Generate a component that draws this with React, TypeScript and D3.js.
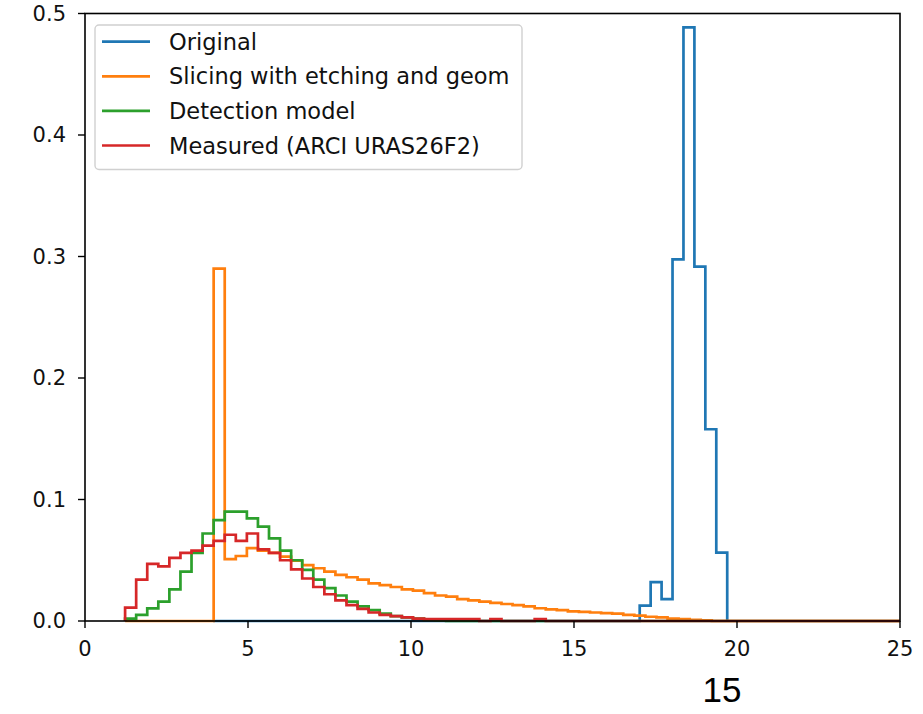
import React from "react";
import * as d3 from "d3";

// ---- data ----
const seriesNames = [
  "Original",
  "Slicing with etching and geom",
  "Detection model",
  "Measured (ARCI URAS26F2)",
];
const seriesColors = ["#1f77b4", "#ff7f0e", "#2ca02c", "#d62728"];

// Original: bin edges from blueStart to blueEnd
const blueStart = 3.93;
const blueEnd = 19.7;
const blueValues = [
  0, 0, 0, 0, 0, 0, 0, 0, 0, 0,
  0, 0, 0, 0, 0, 0, 0, 0, 0, 0,
  0, 0, 0, 0, 0, 0, 0, 0, 0, 0,
  0, 0, 0, 0, 0, 0, 0, 0, 0,
  0.0126, 0.032, 0.018, 0.2977, 0.4886, 0.2916, 0.1578, 0.0562,
];

// shared bins for the other three series
const sharedStart = 1.23;
const sharedEnd = 25;
const orangeValues = [
  0, 0, 0, 0, 0, 0, 0, 0, 0.29, 0.051,
  0.0535, 0.06, 0.058, 0.056, 0.053, 0.0496, 0.046, 0.0434, 0.0406, 0.038,
  0.036, 0.034, 0.031, 0.0296, 0.028, 0.026, 0.025, 0.023, 0.021, 0.02,
  0.018, 0.017, 0.016, 0.015, 0.014, 0.013, 0.012, 0.0105, 0.0095, 0.009,
  0.008, 0.0075, 0.007, 0.0065, 0.006, 0.005, 0.0045, 0.0035, 0.003, 0.002,
  0.0015, 0.001, 0.0005, 0, 0, 0, 0, 0, 0, 0,
  0, 0, 0, 0, 0, 0, 0, 0, 0, 0,
];
const greenValues = [
  0.002, 0.005, 0.0104, 0.016, 0.026, 0.0406, 0.056, 0.072, 0.083, 0.09,
  0.09, 0.0845, 0.0776, 0.068, 0.058, 0.05, 0.042, 0.034, 0.027, 0.021,
  0.016, 0.012, 0.009, 0.006, 0.004, 0.003, 0.002, 0.001, 0.0005, 0,
  0, 0, 0, 0, 0, 0, 0, 0, 0, 0,
  0, 0, 0, 0, 0, 0, 0, 0, 0, 0,
  0, 0, 0, 0, 0, 0, 0, 0, 0, 0,
  0, 0, 0, 0, 0, 0, 0, 0, 0, 0,
];
const redValues = [
  0.011, 0.034, 0.047, 0.045, 0.052, 0.056, 0.058, 0.062, 0.066, 0.071,
  0.066, 0.072, 0.059, 0.056, 0.05, 0.0425, 0.035, 0.028, 0.022, 0.017,
  0.013, 0.01, 0.007, 0.005, 0.004, 0.003, 0.002, 0.0015, 0.0015, 0.0015,
  0.0015, 0.0015, 0, 0.0015, 0, 0, 0, 0.0015, 0, 0,
  0, 0, 0, 0, 0, 0, 0, 0, 0, 0,
  0, 0, 0, 0, 0, 0, 0, 0, 0, 0,
  0, 0, 0, 0, 0, 0, 0, 0, 0, 0,
];

const xTicks = [0, 5, 10, 15, 20, 25];
const yTicks = [0, 0.1, 0.2, 0.3, 0.4, 0.5];
const footerText = "15";

// ---- layout ----
const W = 923;
const H = 714;
const M = { left: 85, right: 900, top: 13.5, bottom: 621 };
const FONT = "'DejaVu Sans', sans-serif";

export default function App() {
  const x = d3.scaleLinear().domain([0, 25]).range([M.left, M.right]);
  const y = d3.scaleLinear().domain([0, 0.5]).range([M.bottom, M.top]);

  const series = [
    { values: blueValues, start: blueStart, end: blueEnd },
    { values: orangeValues, start: sharedStart, end: sharedEnd },
    { values: greenValues, start: sharedStart, end: sharedEnd },
    { values: redValues, start: sharedStart, end: sharedEnd },
  ];

  const line = d3
    .line<[number, number]>()
    .x((d) => x(d[0]))
    .y((d) => y(d[1]));

  const stepPath = (values: number[], start: number, end: number) => {
    const w = (end - start) / values.length;
    const pts: [number, number][] = [[start, 0]];
    values.forEach((v, i) => {
      pts.push([start + i * w, v]);
      pts.push([start + (i + 1) * w, v]);
    });
    pts.push([end, 0]);
    return line(pts) || "";
  };

  const legendX = 95;
  const legendY = 25;
  const legendW = 427;
  const legendH = 144.5;
  const rowGap = 34.6;

  return (
    <svg
      width={W}
      height={H}
      style={{ position: "absolute", left: 0, top: 0, background: "#fff" }}
      fontFamily={FONT}
    >
      <rect x={0} y={0} width={W} height={H} fill="#fff" />
      <defs>
        <clipPath id="plotclip">
          <rect
            x={M.left}
            y={M.top - 2}
            width={M.right - M.left}
            height={M.bottom - M.top + 4}
          />
        </clipPath>
      </defs>
      <g clipPath="url(#plotclip)">
        {series.map((s, i) => (
          <path
            key={i}
            d={stepPath(s.values, s.start, s.end)}
            fill="none"
            stroke={seriesColors[i]}
            strokeWidth={2.7}
            strokeLinejoin="miter"
          />
        ))}
      </g>

      {/* spines */}
      <rect
        x={M.left}
        y={M.top}
        width={M.right - M.left}
        height={M.bottom - M.top}
        fill="none"
        stroke="#000"
        strokeWidth={1.6}
      />

      {/* x ticks */}
      {xTicks.map((t) => (
        <g key={"x" + t}>
          <line x1={x(t)} x2={x(t)} y1={M.bottom} y2={M.bottom + 7} stroke="#000" strokeWidth={1.4} />
          <text x={x(t)} y={649} textAnchor="middle" dominantBaseline="central" fontSize={21} fill="#111">
            {t}
          </text>
        </g>
      ))}
      {/* y ticks */}
      {yTicks.map((t) => (
        <g key={"y" + t}>
          <line x1={M.left - 7} x2={M.left} y1={y(t)} y2={y(t)} stroke="#000" strokeWidth={1.4} />
          <text x={66} y={y(t)} textAnchor="end" dominantBaseline="central" fontSize={21} fill="#111">
            {t.toFixed(1)}
          </text>
        </g>
      ))}

      {/* legend */}
      <rect
        x={legendX}
        y={legendY}
        width={legendW}
        height={legendH}
        rx={4}
        fill="#fff"
        fillOpacity={0.8}
        stroke="#d0d0d0"
        strokeWidth={1.4}
      />
      {seriesNames.map((name, i) => {
        const ly = legendY + 16.7 + i * rowGap;
        return (
          <g key={name}>
            <line x1={102} x2={150} y1={ly} y2={ly} stroke={seriesColors[i]} strokeWidth={2.7} />
            <text x={169} y={ly} dominantBaseline="central" fontSize={22.5} fill="#111">
              {name}
            </text>
          </g>
        );
      })}

      <text
        x={722}
        y={689}
        textAnchor="middle"
        dominantBaseline="central"
        fontSize={35}
        fontFamily="'Liberation Sans', Arial, sans-serif"
        fill="#000"
      >
        {footerText}
      </text>
    </svg>
  );
}
